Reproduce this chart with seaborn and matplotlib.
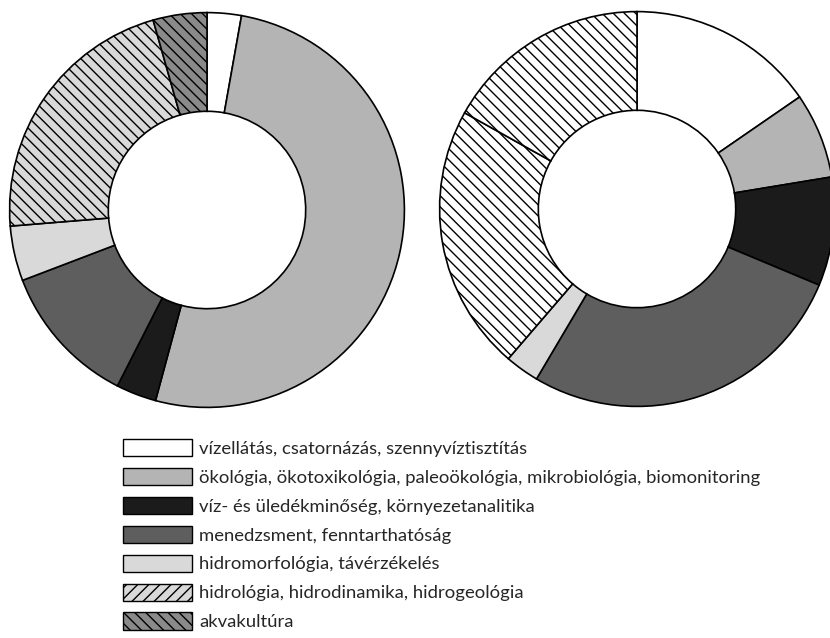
import matplotlib
matplotlib.use('Agg')
import matplotlib.pyplot as plt
import matplotlib.patches as mpatches
import seaborn as sns

# Categories (legend order)
categories = [
    'vízellátás, csatornázás, szennyvíztisztítás',
    'ökológia, ökotoxikológia, paleoökológia, mikrobiológia, biomonitoring',
    'víz- és üledékminőség, környezetanalitika',
    'menedzsment, fenntarthatóság',
    'hidromorfológia, távérzékelés',
    'hidrológia, hidrodinamika, hidrogeológia',
    'akvakultúra',
]

# Shares (%) read from the two donuts
left_values = [2.8, 51.4, 3.3, 11.7, 4.5, 21.9, 4.4]
right_values = [15.4, 7.0, 8.9, 27.2, 2.8, 21.8, 16.9]

# Fill colours and hatches
left_colors = ['#ffffff', '#b4b4b4', '#1b1b1b', '#5e5e5e', '#d9d9d9', '#d9d9d9', '#8a8a8a']
right_colors = ['#ffffff', '#b4b4b4', '#1b1b1b', '#5e5e5e', '#d9d9d9', '#ffffff', '#ffffff']
hatches = ['', '', '', '', '', '\\\\\\', '\\\\\\']
legend_hatches = ['', '', '', '', '', '///', '\\\\\\']

sns.set_theme(style='white')
plt.rcParams['font.family'] = ['Lato', 'DejaVu Sans']
plt.rcParams['hatch.linewidth'] = 1.0

fig = plt.figure(figsize=(8.3, 6.38), dpi=100)

ax1 = fig.add_axes([9 / 830, 1 - 408 / 638, 396 / 830, 396 / 638])
ax2 = fig.add_axes([439 / 830, 1 - 407 / 638, 396 / 830, 396 / 638])

for ax, vals, cols in [(ax1, left_values, left_colors), (ax2, right_values, right_colors)]:
    wedges, _ = ax.pie(vals, colors=cols, startangle=90, counterclock=False,
                       wedgeprops=dict(width=0.5, edgecolor='black', linewidth=1.2))
    for w, h in zip(wedges, hatches):
        w.set_hatch(h)
    ax.set_xlim(-1.003, 1.003)
    ax.set_ylim(-1.003, 1.003)
    ax.set_aspect('equal')
    ax.axis('off')

handles = [mpatches.Patch(facecolor=c, edgecolor='black', linewidth=1.0, hatch=h)
           for c, h in zip(left_colors, legend_hatches)]

fig.legend(handles, categories, loc='upper left', bbox_to_anchor=(108 / 830, 1 - 424 / 638),
           frameon=False, fontsize=13.3, handlelength=3.75, handleheight=1.05,
           labelspacing=0.6, handletextpad=0.4, borderpad=0.3)

fig.savefig('out.png', dpi=100)
